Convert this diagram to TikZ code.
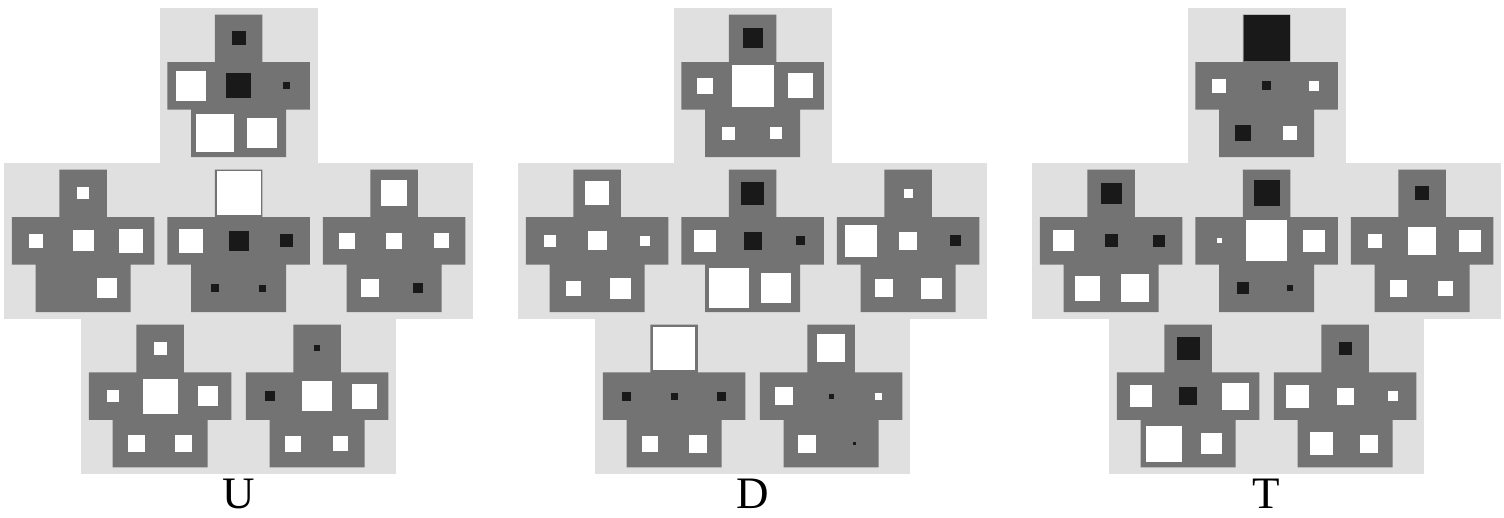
\documentclass[tikz,border=0pt]{standalone}
\usepackage{fontspec}
\setmainfont{Liberation Serif}
\usepackage{tikz}

\colorlet{w}{white}
\colorlet{k}{black!90}

% cross tile: centre x, centre y, squares (size/colour) in top, left, mid, right, bottom-left, bottom-right
\newcommand{\crosstile}[3]{%
  \begin{scope}[shift={(#1,#2)}]
    \fill[tilebg] (-79,-78) rectangle (79,78);
    \fill[crossbody] (-23.75,-71.25) -- (23.75,-71.25) -- (23.75,-23.75) -- (71.25,-23.75) -- (71.25,23.75)
      -- (47.5,23.75) -- (47.5,71.25) -- (-47.5,71.25) -- (-47.5,23.75) -- (-71.25,23.75)
      -- (-71.25,-23.75) -- (-23.75,-23.75) -- cycle;
    \foreach \sz/\col [count=\i from 0] in {#3} {
      \pgfmathsetmacro\dx{{0,-1,0,1,-0.5,0.5}[\i]*47.5}
      \pgfmathsetmacro\dy{{-1,0,0,0,1,1}[\i]*47.5}
      \fill[fill=\col] (\dx-\sz/2,\dy-\sz/2) rectangle ++(\sz,\sz);
    }
  \end{scope}}

\begin{document}
\begin{tikzpicture}[x=1pt, y=-1pt,
    tilebg/.style={fill=black!12},
    crossbody/.style={fill=black!55},
    grouplabel/.style={font=\fontsize{45}{48}\selectfont, inner sep=0pt}]
  \useasboundingbox (0,0) rectangle (1504,518);

  % U
  \crosstile{238.5}{86}{14/k, 30/w, 25/k, 7/k, 38/w, 30/w}
  \crosstile{83}{241}{12/w, 14/w, 21/w, 24/w, 0/w, 20/w}
  \crosstile{238.5}{241}{44/w, 24/w, 20/k, 13/k, 8/k, 7/k}
  \crosstile{394}{241}{26/w, 16/w, 16/w, 15/w, 18/w, 10/k}
  \crosstile{160}{396}{13/w, 12/w, 35/w, 20/w, 17/w, 17/w}
  \crosstile{317}{396}{6/k, 10/k, 30/w, 25/w, 16/w, 15/w}
  \node[grouplabel] (labU) at (238.5,494) {U};

  % D
  \crosstile{752.5}{86}{20/k, 16/w, 42/w, 25/w, 13/w, 12/w}
  \crosstile{597}{241}{24/w, 12/w, 19/w, 10/w, 15/w, 21/w}
  \crosstile{752.5}{241}{23/k, 22/w, 18/k, 9/k, 40/w, 30/w}
  \crosstile{908}{241}{9/w, 32/w, 18/w, 11/k, 18/w, 21/w}
  \crosstile{674}{396}{42/w, 9/k, 7/k, 9/k, 16/w, 18/w}
  \crosstile{831}{396}{28/w, 18/w, 5/k, 7/w, 18/w, 3/k}
  \node[grouplabel] (labD) at (753,494) {D};

  % T
  \crosstile{1266.5}{86}{46/k, 14/w, 9/k, 10/w, 16/k, 14/w}
  \crosstile{1111}{241}{21/k, 21/w, 13/k, 12/k, 25/w, 28/w}
  \crosstile{1266.5}{241}{26/k, 5/w, 41/w, 22/w, 12/k, 6/k}
  \crosstile{1422}{241}{14/k, 14/w, 28/w, 22/w, 17/w, 15/w}
  \crosstile{1188}{396}{23/k, 22/w, 18/k, 27/w, 36/w, 21/w}
  \crosstile{1345}{396}{13/k, 23/w, 17/w, 10/w, 23/w, 18/w}
  \node[grouplabel] (labT) at (1266.5,494) {T};
\end{tikzpicture}
\end{document}
